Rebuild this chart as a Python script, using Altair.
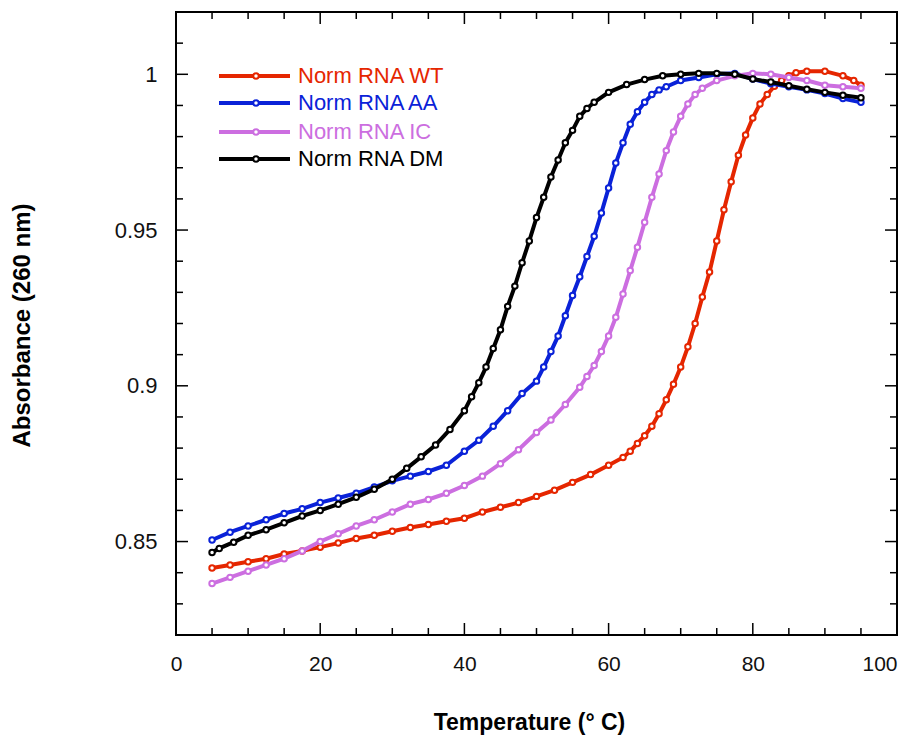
import altair as alt
import pandas as pd

names = ["Norm RNA WT", "Norm RNA AA", "Norm RNA IC", "Norm RNA DM"]
colors = ["#e52600", "#0a22d8", "#cc6ee0", "#000000"]

wt_t = [5, 7.5, 10, 12.5, 15, 17.5, 20, 22.5, 25, 27.5, 30, 32.5, 35, 37.5, 40, 42.5, 45, 47.5, 50, 52.5, 55, 57.5, 60,
        62, 63, 64, 65, 66, 67, 68, 69, 70, 71, 72, 73, 74, 75, 76, 77, 78, 79, 80, 81, 82, 83, 84, 85, 86,
        87.5, 90, 92.5, 94, 95]
wt_a = [0.8415, 0.8425, 0.8435, 0.8445, 0.846, 0.847, 0.8482, 0.8495, 0.851, 0.852, 0.8533, 0.8545, 0.8555, 0.8565,
        0.8575, 0.8595, 0.861, 0.8625, 0.8645, 0.8665, 0.869, 0.8715, 0.8745,
        0.877, 0.879, 0.8815, 0.884, 0.887, 0.891, 0.8955, 0.9005, 0.906, 0.9125, 0.92, 0.9285, 0.9365, 0.9465,
        0.9565, 0.9655, 0.974, 0.9805, 0.986, 0.9905, 0.9935, 0.9962, 0.998, 0.9995, 1.0005,
        1.001, 1.001, 0.9995, 0.998, 0.9965]

aa_t = [5, 7.5, 10, 12.5, 15, 17.5, 20, 22.5, 25, 27.5, 30, 32.5, 35, 37.5, 40, 42, 44, 46, 48, 50,
        51, 52, 53, 54, 55, 56, 57, 58, 59, 60, 61, 62, 63, 64, 65, 66, 67, 68,
        70, 72.5, 75, 77.5, 80, 82.5, 85, 87.5, 90, 92.5, 95]
aa_a = [0.8505, 0.853, 0.855, 0.857, 0.859, 0.8605, 0.8625, 0.864, 0.8655, 0.8675, 0.8695, 0.871, 0.8725, 0.8745,
        0.879, 0.8825, 0.887, 0.892, 0.8975, 0.9015,
        0.906, 0.911, 0.916, 0.9225, 0.929, 0.935, 0.9415, 0.948, 0.9555, 0.9635, 0.9715, 0.978, 0.984, 0.988,
        0.991, 0.9935, 0.995, 0.996,
        0.998, 0.999, 1.0, 1.0003, 0.9985, 0.997, 0.996, 0.995, 0.9938, 0.9922, 0.991]

ic_t = [5, 7.5, 10, 12.5, 15, 17.5, 20, 22.5, 25, 27.5, 30, 32.5, 35, 37.5, 40, 42.5, 45, 47.5, 50, 52, 54, 56,
        57, 58, 59, 60, 61, 62, 63, 64, 65, 66, 67, 68, 69, 70, 71, 72, 73,
        75, 77.5, 80, 82.5, 85, 87.5, 90, 92.5, 95]
ic_a = [0.8365, 0.8385, 0.8405, 0.8425, 0.8445, 0.847, 0.850, 0.8525, 0.855, 0.857, 0.8595, 0.862, 0.8635, 0.8655,
        0.868, 0.871, 0.875, 0.8795, 0.885, 0.889, 0.894, 0.8995,
        0.903, 0.9065, 0.911, 0.916, 0.922, 0.9295, 0.937, 0.9445, 0.9525, 0.9605, 0.968, 0.9755, 0.9815, 0.9865,
        0.9905, 0.9935, 0.9955,
        0.998, 0.9995, 1.0003, 1.0, 0.999, 0.998, 0.9965, 0.996, 0.9955]

dm_t = [5, 6, 8, 10, 12.5, 15, 17.5, 20, 22.5, 25, 27.5, 30, 32, 34, 36, 38, 40,
        41, 42, 43, 44, 45, 46, 47, 48, 49, 50, 51, 52, 53, 54, 55, 56, 57, 58,
        60, 62.5, 65, 67.5, 70, 72.5, 75, 77.5, 80, 82.5, 85, 87.5, 90, 92.5, 95]
dm_a = [0.8465, 0.8478, 0.8498, 0.852, 0.8538, 0.856, 0.8582, 0.860, 0.862, 0.8642, 0.8668, 0.870, 0.8735, 0.8772,
        0.881, 0.886, 0.892,
        0.8965, 0.901, 0.906, 0.912, 0.918, 0.9255, 0.932, 0.9395, 0.9465, 0.954, 0.9605, 0.967, 0.9725, 0.978,
        0.982, 0.9865, 0.989, 0.991,
        0.9942, 0.9967, 0.9983, 0.9995, 1.0, 1.0003, 1.0003, 1.0, 0.9985, 0.9975, 0.9963, 0.9952, 0.9942, 0.9933,
        0.9925]

x_major = [0, 20, 40, 60, 80, 100]
x_minor = [5, 10, 15, 25, 30, 35, 45, 50, 55, 65, 70, 75, 85, 90, 95]
y_major = [0.85, 0.9, 0.95, 1.0]
y_minor = [0.82, 0.83, 0.84, 0.86, 0.87, 0.88, 0.89, 0.91, 0.92, 0.93, 0.94, 0.96, 0.97, 0.98, 0.99, 1.01, 1.02]

series = [(names[0], wt_t, wt_a), (names[1], aa_t, aa_a), (names[2], ic_t, ic_a), (names[3], dm_t, dm_a)]
for _, t, a in series:
    assert len(t) == len(a)

W, H = 721, 623
xs = alt.Scale(domain=[0, 100], nice=False, zero=False)
ys = alt.Scale(domain=[0.82, 1.02], nice=False, zero=False)
LABEL_FONT = "Liberation Sans, Arial, sans-serif"
TITLE_FONT = "Liberation Sans Narrow, Liberation Sans, Arial, sans-serif"

x_axis = alt.Axis(values=x_major, format="d", ticks=False, tickSize=0, domain=False, grid=False,
                  labelFlush=False, labelOverlap=False, labelBound=False,
                  labelAlign={"condition": {"test": "datum.value >= 100", "value": "right"}, "value": "center"},
                  labelFont=LABEL_FONT, labelFontSize=21, labelColor="#111", labelPadding=18,
                  title="Temperature (° C)", titleFont=TITLE_FONT, titleFontSize=23, titleFontWeight="bold",
                  titleColor="#000", titleX=353, titleY=87, titleAlign="center", titleBaseline="middle")
y_axis = alt.Axis(values=y_major, format="~g", ticks=False, tickSize=0, domain=False, grid=False,
                  labelFlush=False, labelOverlap=False,
                  labelFont=LABEL_FONT, labelFontSize=22, labelColor="#111", labelPadding=19,
                  title="Absorbance (260 nm)", titleFont=TITLE_FONT, titleFontSize=24, titleFontWeight="bold",
                  titleColor="#000", titleX=-154, titleY=313, titleAlign="center", titleBaseline="middle",
                  titleAngle=270)

layers = []
for i, (name, t, a) in enumerate(series):
    df = pd.DataFrame({"T": t, "A": a, "series": name})
    base = alt.Chart(df).encode(
        x=alt.X("T:Q", scale=xs, axis=x_axis),
        y=alt.Y("A:Q", scale=ys, axis=y_axis),
    )
    layers.append(base.mark_line(color=colors[i], strokeWidth=4))
    layers.append(base.mark_point(shape="circle", size=30, filled=True, fill="white", stroke=colors[i],
                                  strokeWidth=2, opacity=1))


def xticks(vals, length, top):
    d = pd.DataFrame({"v": vals})
    y0 = 0 if top else H
    y1 = length if top else H - length
    return alt.Chart(d).mark_rule(color="black", strokeWidth=1.5).encode(
        x=alt.X("v:Q", scale=xs, axis=x_axis), y=alt.value(y0), y2=alt.value(y1))


def yticks(vals, length, right):
    d = pd.DataFrame({"v": vals})
    x0 = W if right else 0
    x1 = W - length if right else length
    return alt.Chart(d).mark_rule(color="black", strokeWidth=1.5).encode(
        y=alt.Y("v:Q", scale=ys, axis=y_axis), x=alt.value(x0), x2=alt.value(x1))


for top in (False, True):
    layers.append(xticks(x_major, 12, top))
    layers.append(xticks(x_minor, 7, top))
for right in (False, True):
    layers.append(yticks(y_major, 12, right))
    layers.append(yticks(y_minor, 7, right))

# legend (top-left, inside the plot)
leg_rows = [64, 91, 120, 147]
for i, name in enumerate(names):
    d = pd.DataFrame({"label": [name]})
    yy = leg_rows[i]
    layers.append(alt.Chart(d).mark_rule(color=colors[i], strokeWidth=4).encode(
        x=alt.value(43), x2=alt.value(114), y=alt.value(yy)))
    layers.append(alt.Chart(d).mark_point(shape="circle", size=30, filled=True, fill="white", stroke=colors[i],
                                          strokeWidth=2, opacity=1).encode(x=alt.value(80), y=alt.value(yy)))
    layers.append(alt.Chart(d).mark_text(align="left", baseline="middle", font=LABEL_FONT, fontSize=22,
                                         color=colors[i]).encode(x=alt.value(122), y=alt.value(yy),
                                                                 text="label:N"))

chart = alt.layer(*layers).properties(
    width=W, height=H,
    autosize=alt.AutoSizeParams(type="none"),
    padding={"left": 168, "top": 4, "right": 14, "bottom": 104},
    background="white",
).configure_view(stroke="black", strokeWidth=2)

chart.save("out.html", embed_options={"renderer": "svg", "actions": False})
